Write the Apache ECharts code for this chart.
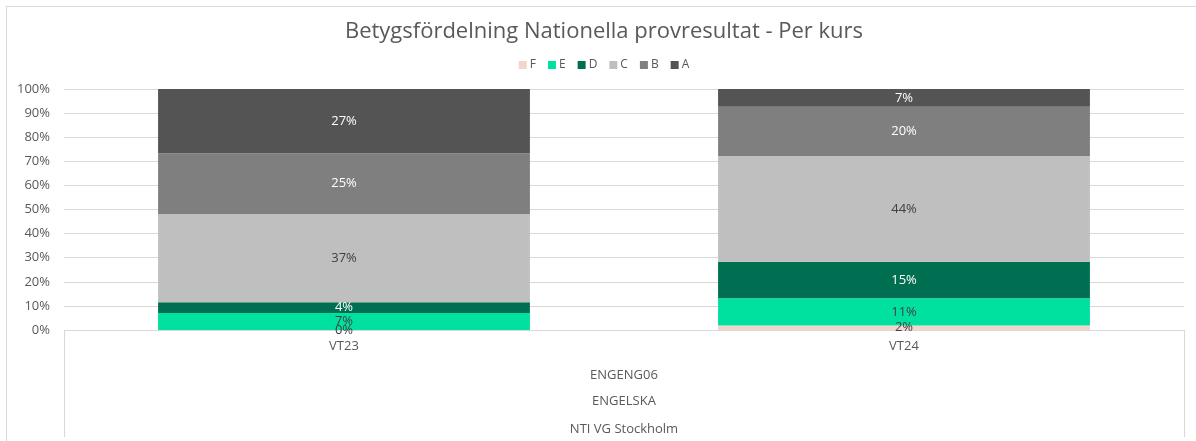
<!DOCTYPE html>
<html>
<head>
<meta charset="utf-8">
<script src="https://cdn.jsdelivr.net/npm/echarts@6/dist/echarts.min.js"></script>
<style>
html,body{margin:0;padding:0;background:#fff;overflow:hidden;width:1196px;height:441px;}
#wrap{position:absolute;left:6px;top:6px;border:1px solid #d9d9d9;width:1194px;height:440px;}
#chart{width:1194px;height:434px;}
</style>
</head>
<body>
<div id="wrap"><div id="chart"></div></div>
<script>
const categories = ['VT23', 'VT24'];
const level2 = ['ENGENG06'];
const level3 = ['ENGELSKA'];
const level4 = ['NTI VG Stockholm'];
const grades = ['F', 'E', 'D', 'C', 'B', 'A'];
const valuesF = [0, 1.9];
const valuesE = [7.1, 11.3];
const valuesD = [4.4, 15.1];
const valuesC = [36.6, 43.9];
const valuesB = [25.2, 20.4];
const valuesA = [26.7, 7.4];
const yTicks = [0, 10, 20, 30, 40, 50, 60, 70, 80, 90, 100];

const seriesValues = [valuesF, valuesE, valuesD, valuesC, valuesB, valuesA];
const colors = ['#F4D5CB', '#00E1A0', '#006F51', '#BFBFBF', '#7F7F7F', '#545454'];
const labelColors = ['#404040', '#404040', '#ffffff', '#404040', '#ffffff', '#ffffff'];
const FONT = "'Century Gothic', 'Open Sans', sans-serif";

const chart = echarts.init(document.getElementById('chart'));
const hiddenAxis = {
  type: 'category', position: 'bottom', gridIndex: 0,
  axisLine: { show: false }, axisTick: { show: false },
  splitLine: { show: false }
};
chart.setOption({
  animation: false,
  color: colors,
  title: {
    text: 'Betygsfördelning Nationella provresultat - Per kurs',
    left: 'center', top: 9,
    textStyle: { fontFamily: FONT, fontSize: 22, fontWeight: 'normal', color: '#595959' }
  },
  legend: {
    data: grades, top: 47, left: 'center',
    itemWidth: 8, itemHeight: 8, itemGap: 12,
    icon: 'rect',
    textStyle: { fontFamily: FONT, fontSize: 12, color: '#595959', padding: [0, 0, 0, -2] }
  },
  grid: { left: 57, right: 17, top: 82, bottom: 111 },
  xAxis: [
    {
      type: 'category', data: categories,
      axisLine: { lineStyle: { color: '#D9D9D9' } },
      axisTick: { show: false },
      axisLabel: { fontFamily: FONT, fontSize: 13, color: '#595959', margin: 10 }
    },
    Object.assign({}, hiddenAxis, {
      data: level2,
      axisTick: { show: true, interval: 0, alignWithLabel: false, length: 107, lineStyle: { color: '#D9D9D9' } },
      axisLabel: { fontFamily: FONT, fontSize: 13, color: '#595959', margin: 39 }
    }),
    Object.assign({}, hiddenAxis, {
      data: level3,
      axisLabel: { fontFamily: FONT, fontSize: 13, color: '#595959', margin: 65 }
    }),
    Object.assign({}, hiddenAxis, {
      data: level4,
      axisLabel: { fontFamily: FONT, fontSize: 13, color: '#595959', margin: 93 }
    })
  ],
  yAxis: {
    type: 'value', min: yTicks[0], max: yTicks[yTicks.length - 1], interval: 10,
    axisLine: { show: false }, axisTick: { show: false },
    splitLine: { lineStyle: { color: '#D9D9D9' } },
    axisLabel: { formatter: '{value}%', fontFamily: FONT, fontSize: 13, color: '#595959', margin: 14 }
  },
  series: grades.map((g, i) => ({
    name: g, type: 'bar', stack: 'total', xAxisIndex: 0,
    barWidth: '66.4%',
    data: seriesValues[i],
    itemStyle: { color: colors[i] },
    label: {
      show: true, position: 'inside',
      formatter: p => Math.round(p.value) + '%',
      fontFamily: FONT, fontSize: 13, color: labelColors[i]
    }
  }))
});
</script>
</body>
</html>
